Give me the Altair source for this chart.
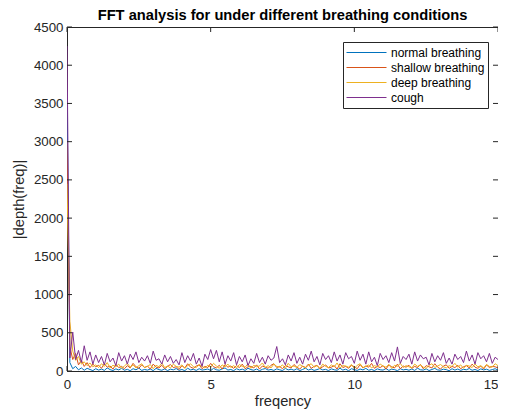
import altair as alt
import pandas as pd

# ---------------- data ----------------
freq_step = 0.1
series_names = ["normal breathing", "shallow breathing", "deep breathing", "cough"]
series_colors = ["#0072BD", "#D95319", "#EDB120", "#7E2F8E"]

normal = [3650, 110, 30, 60, 15, 40, 10, 35, 20, 5,
          30, 12, 25, 8, 40, 18, 6, 28, 14, 35,
          10, 22, 4, 30, 16, 38, 8, 20, 12, 26,
          5, 34, 18, 10, 28, 6, 24, 15, 32, 9,
          20, 4, 36, 14, 22, 8, 30, 12, 18, 26,
          6, 34, 16, 10, 28, 40, 12, 20, 5, 30,
          14, 24, 8, 36, 18, 10, 26, 4, 22, 32,
          12, 20, 8, 28, 16, 6, 34, 14, 24, 10,
          30, 5, 20, 38, 12, 26, 8, 18, 32, 14,
          22, 6, 28, 16, 10, 36, 12, 24, 4, 30,
          18, 8, 26, 14, 34, 10, 20, 6, 28, 16,
          12, 32, 8, 24, 18, 5, 30, 14, 22, 10,
          26, 8, 36, 16, 12, 28, 6, 20, 34, 14,
          10, 24, 18, 4, 30, 12, 26, 8, 22, 16,
          32, 10, 20, 6, 28, 14, 24, 8, 18, 30,
          12]

shallow = [3000, 320, 150, 230, 80, 140, 60, 110, 45, 90,
           55, 75, 35, 95, 50, 65, 25, 85, 45, 60,
           30, 70, 40, 100, 55, 35, 80, 45, 65, 25,
           90, 50, 40, 75, 30, 60, 85, 45, 55, 20,
           70, 40, 95, 50, 35, 65, 80, 30, 60, 45,
           100, 55, 40, 75, 25, 85, 50, 65, 35, 70,
           45, 90, 30, 55, 60, 40, 80, 25, 65, 50,
           35, 75, 95, 45, 60, 30, 70, 55, 40, 85,
           50, 25, 65, 45, 90, 35, 60, 75, 30, 55,
           80, 40, 50, 70, 25, 95, 45, 60, 35, 75,
           55, 30, 85, 40, 65, 50, 100, 35, 60, 45,
           70, 25, 80, 55, 40, 90, 30, 65, 50, 75,
           35, 60, 45, 85, 30, 70, 55, 40, 95, 50,
           25, 65, 80, 35, 60, 45, 75, 30, 55, 70,
           40, 90, 50, 35, 65, 25, 80, 45, 60, 55,
           40]

deep = [2450, 650, 260, 140, 190, 90, 120, 70, 105, 55,
        80, 45, 95, 60, 110, 40, 75, 55, 90, 35,
        65, 100, 50, 80, 40, 70, 95, 45, 60, 85,
        30, 75, 55, 105, 45, 65, 40, 90, 60, 50,
        80, 35, 70, 95, 55, 45, 85, 60, 40, 75,
        50, 100, 65, 35, 80, 55, 90, 45, 70, 40,
        85, 60, 50, 95, 35, 75, 55, 65, 105, 45,
        70, 40, 90, 60, 50, 80, 35, 100, 55, 65,
        45, 85, 60, 40, 75, 95, 50, 70, 35, 90,
        60, 45, 80, 55, 105, 40, 70, 65, 50, 85,
        35, 75, 95, 45, 60, 80, 40, 70, 55, 90,
        65, 50, 85, 35, 75, 60, 100, 45, 70, 55,
        40, 90, 60, 80, 50, 35, 75, 95, 45, 65,
        85, 55, 40, 70, 60, 100, 50, 80, 35, 75,
        65, 45, 90, 55, 70, 40, 85, 60, 50, 95,
        70]

cough = [4250, 170, 510, 150, 270, 110, 330, 140, 250, 90,
         210, 110, 190, 80, 230, 120, 170, 70, 240, 130,
         200, 90, 220, 150, 250, 110, 180, 130, 200, 100,
         260, 140, 160, 90, 210, 120, 190, 100, 150, 80,
         240, 110, 200, 130, 230, 90, 170, 60, 220, 150,
         280, 160, 270, 120, 250, 90, 200, 130, 240, 80,
         190, 120, 210, 70, 160, 100, 230, 110, 180, 90,
         200, 140, 170, 320, 110, 160, 80, 210, 130, 240,
         100, 180, 90, 220, 140, 260, 120, 190, 80, 230,
         150, 200, 110, 250, 130, 210, 90, 240, 160, 190,
         100, 260, 140, 220, 90, 250, 120, 180, 70, 230,
         150, 200, 110, 240, 130, 315, 100, 190, 150, 220,
         90, 250, 130, 210, 160, 180, 80, 230, 120, 200,
         140, 240, 100, 170, 90, 220, 150, 190, 110, 260,
         130, 210, 90, 240, 160, 200, 120, 230, 100, 180,
         150]

x_ticks = [0, 5, 10, 15]
y_ticks = [0, 500, 1000, 1500, 2000, 2500, 3000, 3500, 4000, 4500]

# ---------------- tables ----------------
rows = []
for name, vals in zip(series_names, [normal, shallow, deep, cough]):
    for i, v in enumerate(vals):
        rows.append({"freq": round(i * freq_step, 4), "value": v, "series": name})
df = pd.DataFrame(rows)

xt = pd.DataFrame({"t": x_ticks})
yt = pd.DataFrame({"t": y_ticks})

W, H = 431, 344
FONT = "Liberation Sans"
AX = "#262626"

xscale = alt.Scale(domain=[0, 15], nice=False, zero=False)
yscale = alt.Scale(domain=[0, 4500], nice=False)

xaxis = alt.Axis(title="freqency", values=x_ticks, ticks=False, grid=False,
                 labelPadding=6, titlePadding=3, labelFontSize=13.3,
                 titleFontSize=14.7, titleFontWeight="normal",
                 labelOverlap=False, labelFlush=False, format="d",
                 labelAlign={"condition": {"test": "datum.value >= 15", "value": "right"},
                             "value": "center"},
                 labelColor=AX, titleColor=AX, domainColor=AX)
yaxis = alt.Axis(title="|depth(freq)|", values=y_ticks, ticks=False, grid=False,
                 labelPadding=4, titlePadding=7, labelFontSize=13.3,
                 titleFontSize=14.7, titleFontWeight="normal",
                 labelOverlap=False, labelFlush=False, format="d",
                 labelColor=AX, titleColor=AX, domainColor=AX)

lines = alt.Chart(df).mark_line(strokeWidth=1, clip=True).encode(
    x=alt.X("freq:Q", scale=xscale, axis=xaxis),
    y=alt.Y("value:Q", scale=yscale, axis=yaxis),
    color=alt.Color("series:N",
                    scale=alt.Scale(domain=series_names, range=series_colors),
                    sort=series_names,
                    legend=alt.Legend(title=None, orient="none", legendX=276, legendY=15,
                                      symbolType="stroke", symbolSize=1600,
                                      symbolStrokeWidth=1, clipHeight=15, rowPadding=0,
                                      labelFontSize=12, labelOffset=4, labelColor="#000000",
                                      labelFont=FONT, padding=3,
                                      strokeColor=AX, fillColor="white")),
    order=alt.Order("freq:Q"),
)

tick_bottom = alt.Chart(xt).mark_rule(color=AX, strokeWidth=1).encode(
    x=alt.X("t:Q", scale=xscale, axis=xaxis), y=alt.value(H), y2=alt.value(H - 5))
tick_top = alt.Chart(xt).mark_rule(color=AX, strokeWidth=1).encode(
    x=alt.X("t:Q", scale=xscale, axis=xaxis), y=alt.value(0), y2=alt.value(5))
tick_left = alt.Chart(yt).mark_rule(color=AX, strokeWidth=1).encode(
    y=alt.Y("t:Q", scale=yscale, axis=yaxis), x=alt.value(0), x2=alt.value(5))
tick_right = alt.Chart(yt).mark_rule(color=AX, strokeWidth=1).encode(
    y=alt.Y("t:Q", scale=yscale, axis=yaxis), x=alt.value(W), x2=alt.value(W - 5))

chart = alt.layer(lines, tick_bottom, tick_top, tick_left, tick_right).properties(
    width=W, height=H,
    title=alt.TitleParams("FFT analysis for under different breathing conditions",
                          fontSize=14.7, fontWeight="bold", font=FONT, color="#000000",
                          anchor="middle", offset=-3),
    autosize=alt.AutoSizeParams(type="none"),
    padding={"left": 59, "top": 19, "right": 0, "bottom": 40},
    background="white",
).configure_view(stroke=AX, strokeWidth=1).configure_axis(
    labelFont=FONT, titleFont=FONT, domainWidth=1
).configure_legend(labelFont=FONT)

chart.save("out.html", embed_options={"renderer": "svg", "actions": False})
